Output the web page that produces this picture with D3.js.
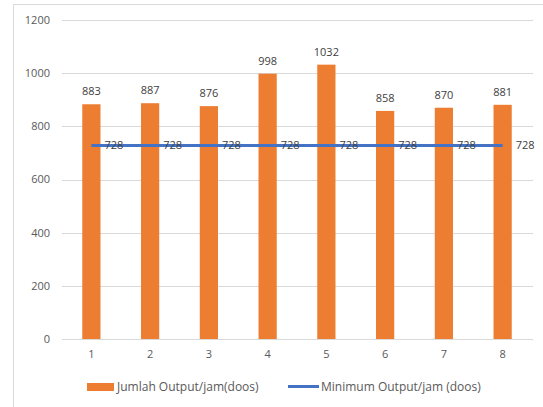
<!DOCTYPE html>
<html>
<head>
<meta charset="utf-8">
<script src="https://cdn.jsdelivr.net/npm/d3@7"></script>
<style>
  body { margin: 0; background: #fff; }
  svg { display: block; font-family: "Open Sans", "Noto Sans", sans-serif; }
</style>
</head>
<body>
<div id="chart"></div>
<script>
// data
const kategori = ["1", "2", "3", "4", "5", "6", "7", "8"];
const jumlahOutput = [883, 887, 876, 998, 1032, 858, 870, 881];
const minimumOutput = [728, 728, 728, 728, 728, 728, 728, 728];
const yTicks = [0, 200, 400, 600, 800, 1000, 1200];
const namaSeri = ["Jumlah Output/jam(doos)", "Minimum Output/jam (doos)"];

const W = 543, H = 407;
const fs = 11;

const svg = d3.select("#chart").append("svg")
    .attr("width", W)
    .attr("height", H);

// chart border (only top and left visible in the crop)
svg.append("path")
    .attr("d", `M13.5,${H} L13.5,4.5 L${W},4.5`)
    .attr("fill", "none")
    .attr("stroke", "#d9d9d9");

const x = d3.scaleBand()
    .domain(kategori)
    .range([62, 532])
    .paddingInner(0.69)
    .paddingOuter(0.345);

const y = d3.scaleLinear()
    .domain([0, 1200])
    .range([339, 20]);

// gridlines
svg.append("g")
    .selectAll("line")
    .data(yTicks)
    .join("line")
    .attr("x1", 62)
    .attr("x2", 533)
    .attr("y1", d => Math.round(y(d)) + 0.5)
    .attr("y2", d => Math.round(y(d)) + 0.5)
    .attr("stroke", "#d9d9d9")
    .attr("stroke-width", 1);

// y axis labels
svg.append("g")
    .selectAll("text")
    .data(yTicks)
    .join("text")
    .attr("x", 50)
    .attr("y", d => y(d))
    .attr("dy", "0.35em")
    .attr("text-anchor", "end")
    .attr("font-size", fs)
    .attr("fill", "#595959")
    .text(d => d);

// x axis labels
svg.append("g")
    .selectAll("text")
    .data(kategori)
    .join("text")
    .attr("x", d => x(d) + x.bandwidth() / 2)
    .attr("y", 354)
    .attr("dy", "0.35em")
    .attr("text-anchor", "middle")
    .attr("font-size", fs)
    .attr("fill", "#595959")
    .text(d => d);

// bars
svg.append("g")
    .selectAll("rect")
    .data(jumlahOutput)
    .join("rect")
    .attr("x", (d, i) => x(kategori[i]))
    .attr("y", d => y(d))
    .attr("width", x.bandwidth())
    .attr("height", d => y(0) - y(d))
    .attr("fill", "#ed7d31");

// bar value labels
svg.append("g")
    .selectAll("text")
    .data(jumlahOutput)
    .join("text")
    .attr("x", (d, i) => x(kategori[i]) + x.bandwidth() / 2)
    .attr("y", d => y(d) - 9)
    .attr("text-anchor", "middle")
    .attr("font-size", fs)
    .attr("fill", "#404040")
    .text(d => d);

// minimum line
const garis = d3.line()
    .x((d, i) => x(kategori[i]) + x.bandwidth() / 2)
    .y(d => y(d));

svg.append("path")
    .datum(minimumOutput)
    .attr("d", garis)
    .attr("fill", "none")
    .attr("stroke", "#4472c4")
    .attr("stroke-width", 3);

// line value labels
svg.append("g")
    .selectAll("text")
    .data(minimumOutput)
    .join("text")
    .attr("x", (d, i) => x(kategori[i]) + x.bandwidth() / 2 + 13)
    .attr("y", d => y(d))
    .attr("dy", "0.35em")
    .attr("font-size", fs)
    .attr("fill", "#404040")
    .text(d => d);

// legend
const legend = svg.append("g").attr("font-size", 12).attr("fill", "#595959");

legend.append("rect")
    .attr("x", 87)
    .attr("y", 383)
    .attr("width", 27)
    .attr("height", 8)
    .attr("fill", "#ed7d31");

legend.append("text")
    .attr("x", 117)
    .attr("y", 387)
    .attr("dy", "0.35em")
    .text(namaSeri[0]);

legend.append("line")
    .attr("x1", 288)
    .attr("x2", 319)
    .attr("y1", 386.5)
    .attr("y2", 386.5)
    .attr("stroke", "#4472c4")
    .attr("stroke-width", 3);

legend.append("text")
    .attr("x", 321)
    .attr("y", 387)
    .attr("dy", "0.35em")
    .text(namaSeri[1]);
</script>
</body>
</html>
